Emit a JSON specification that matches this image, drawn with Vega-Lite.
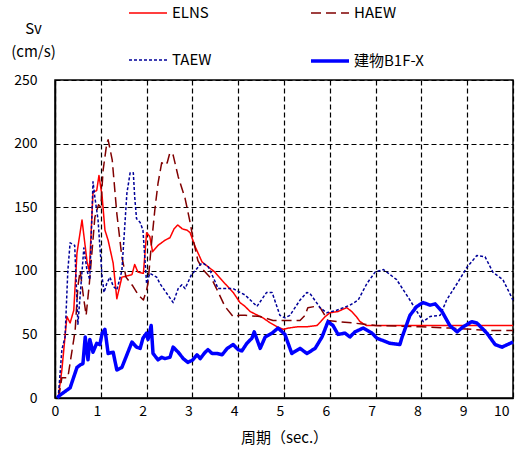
{
  "$schema": "https://vega.github.io/schema/vega-lite/v6.json",
  "width": 458,
  "height": 318,
  "autosize": {"type": "none"},
  "padding": {"left": 55, "top": 80, "right": 6, "bottom": 61},
  "background": "white",
  "data": {"values": [
    {"s":"ELNS","x":0.07,"y":0},{"s":"ELNS","x":0.15,"y":22},{"s":"ELNS","x":0.26,"y":64},{"s":"ELNS","x":0.33,"y":59},{"s":"ELNS","x":0.41,"y":69},{"s":"ELNS","x":0.48,"y":114},{"s":"ELNS","x":0.59,"y":140},{"s":"ELNS","x":0.70,"y":107},{"s":"ELNS","x":0.75,"y":100},{"s":"ELNS","x":0.83,"y":162},{"s":"ELNS","x":0.91,"y":163},{"s":"ELNS","x":0.96,"y":175},{"s":"ELNS","x":1.03,"y":158},{"s":"ELNS","x":1.09,"y":132},{"s":"ELNS","x":1.16,"y":124},{"s":"ELNS","x":1.27,"y":106},{"s":"ELNS","x":1.35,"y":78},{"s":"ELNS","x":1.46,"y":95},{"s":"ELNS","x":1.57,"y":96},{"s":"ELNS","x":1.68,"y":97},{"s":"ELNS","x":1.74,"y":105},{"s":"ELNS","x":1.81,"y":99},{"s":"ELNS","x":1.93,"y":98},{"s":"ELNS","x":2.0,"y":130},{"s":"ELNS","x":2.07,"y":127},{"s":"ELNS","x":2.13,"y":115},{"s":"ELNS","x":2.25,"y":120},{"s":"ELNS","x":2.4,"y":124},{"s":"ELNS","x":2.51,"y":126},{"s":"ELNS","x":2.6,"y":133},{"s":"ELNS","x":2.68,"y":136},{"s":"ELNS","x":2.78,"y":133},{"s":"ELNS","x":2.88,"y":132},{"s":"ELNS","x":2.95,"y":130},{"s":"ELNS","x":3.06,"y":119},{"s":"ELNS","x":3.21,"y":107},{"s":"ELNS","x":3.35,"y":103},{"s":"ELNS","x":3.49,"y":99},{"s":"ELNS","x":3.71,"y":90},{"s":"ELNS","x":3.89,"y":83},{"s":"ELNS","x":4.04,"y":75},{"s":"ELNS","x":4.15,"y":72},{"s":"ELNS","x":4.26,"y":68},{"s":"ELNS","x":4.37,"y":66},{"s":"ELNS","x":4.54,"y":63},{"s":"ELNS","x":4.7,"y":59},{"s":"ELNS","x":4.85,"y":56},{"s":"ELNS","x":4.98,"y":54},{"s":"ELNS","x":5.1,"y":55},{"s":"ELNS","x":5.3,"y":56},{"s":"ELNS","x":5.5,"y":56},{"s":"ELNS","x":5.72,"y":57},{"s":"ELNS","x":5.8,"y":60},{"s":"ELNS","x":5.9,"y":64},{"s":"ELNS","x":6.0,"y":67},{"s":"ELNS","x":6.18,"y":68},{"s":"ELNS","x":6.3,"y":70},{"s":"ELNS","x":6.37,"y":71},{"s":"ELNS","x":6.48,"y":68},{"s":"ELNS","x":6.58,"y":64},{"s":"ELNS","x":6.66,"y":60},{"s":"ELNS","x":6.8,"y":57},{"s":"ELNS","x":7.0,"y":57},{"s":"ELNS","x":8.0,"y":57},{"s":"ELNS","x":9.0,"y":57},{"s":"ELNS","x":10.0,"y":57},
    {"s":"HAEW","x":0.08,"y":0},{"s":"HAEW","x":0.15,"y":16},{"s":"HAEW","x":0.28,"y":16},{"s":"HAEW","x":0.44,"y":53},{"s":"HAEW","x":0.5,"y":88},{"s":"HAEW","x":0.55,"y":100},{"s":"HAEW","x":0.62,"y":80},{"s":"HAEW","x":0.68,"y":65},{"s":"HAEW","x":0.75,"y":90},{"s":"HAEW","x":0.87,"y":142},{"s":"HAEW","x":0.95,"y":152},{"s":"HAEW","x":1.0,"y":150},{"s":"HAEW","x":1.05,"y":179},{"s":"HAEW","x":1.13,"y":200},{"s":"HAEW","x":1.16,"y":203},{"s":"HAEW","x":1.25,"y":187},{"s":"HAEW","x":1.35,"y":145},{"s":"HAEW","x":1.46,"y":111},{"s":"HAEW","x":1.55,"y":95},{"s":"HAEW","x":1.7,"y":88},{"s":"HAEW","x":1.82,"y":81},{"s":"HAEW","x":1.93,"y":77},{"s":"HAEW","x":2.0,"y":85},{"s":"HAEW","x":2.03,"y":90},{"s":"HAEW","x":2.1,"y":119},{"s":"HAEW","x":2.18,"y":148},{"s":"HAEW","x":2.25,"y":169},{"s":"HAEW","x":2.33,"y":185},{"s":"HAEW","x":2.4,"y":183},{"s":"HAEW","x":2.45,"y":185},{"s":"HAEW","x":2.51,"y":193},{"s":"HAEW","x":2.58,"y":191},{"s":"HAEW","x":2.69,"y":174},{"s":"HAEW","x":2.84,"y":157},{"s":"HAEW","x":2.95,"y":138},{"s":"HAEW","x":3.02,"y":124},{"s":"HAEW","x":3.12,"y":108},{"s":"HAEW","x":3.23,"y":101},{"s":"HAEW","x":3.43,"y":93},{"s":"HAEW","x":3.54,"y":85},{"s":"HAEW","x":3.71,"y":72},{"s":"HAEW","x":3.89,"y":64},{"s":"HAEW","x":4.04,"y":65},{"s":"HAEW","x":4.15,"y":65},{"s":"HAEW","x":4.48,"y":64},{"s":"HAEW","x":4.76,"y":61},{"s":"HAEW","x":5.0,"y":61},{"s":"HAEW","x":5.35,"y":61},{"s":"HAEW","x":5.46,"y":65},{"s":"HAEW","x":5.52,"y":71},{"s":"HAEW","x":5.68,"y":72},{"s":"HAEW","x":5.79,"y":71},{"s":"HAEW","x":5.96,"y":61},{"s":"HAEW","x":6.2,"y":60},{"s":"HAEW","x":6.5,"y":59},{"s":"HAEW","x":7.0,"y":57},{"s":"HAEW","x":8.0,"y":56},{"s":"HAEW","x":8.6,"y":55},{"s":"HAEW","x":9.56,"y":53},{"s":"HAEW","x":10.0,"y":53},
    {"s":"TAEW","x":0.07,"y":0},{"s":"TAEW","x":0.15,"y":38},{"s":"TAEW","x":0.22,"y":48},{"s":"TAEW","x":0.28,"y":100},{"s":"TAEW","x":0.33,"y":122},{"s":"TAEW","x":0.43,"y":120},{"s":"TAEW","x":0.5,"y":58},{"s":"TAEW","x":0.63,"y":118},{"s":"TAEW","x":0.7,"y":100},{"s":"TAEW","x":0.76,"y":93},{"s":"TAEW","x":0.83,"y":170},{"s":"TAEW","x":0.87,"y":158},{"s":"TAEW","x":0.94,"y":140},{"s":"TAEW","x":0.98,"y":119},{"s":"TAEW","x":1.03,"y":95},{"s":"TAEW","x":1.07,"y":83},{"s":"TAEW","x":1.13,"y":90},{"s":"TAEW","x":1.2,"y":95},{"s":"TAEW","x":1.27,"y":88},{"s":"TAEW","x":1.35,"y":85},{"s":"TAEW","x":1.46,"y":100},{"s":"TAEW","x":1.57,"y":161},{"s":"TAEW","x":1.64,"y":177},{"s":"TAEW","x":1.71,"y":177},{"s":"TAEW","x":1.74,"y":158},{"s":"TAEW","x":1.78,"y":141},{"s":"TAEW","x":1.86,"y":138},{"s":"TAEW","x":1.92,"y":132},{"s":"TAEW","x":2.0,"y":90},{"s":"TAEW","x":2.07,"y":98},{"s":"TAEW","x":2.22,"y":95},{"s":"TAEW","x":2.29,"y":90},{"s":"TAEW","x":2.58,"y":75},{"s":"TAEW","x":2.69,"y":86},{"s":"TAEW","x":2.77,"y":89},{"s":"TAEW","x":2.84,"y":86},{"s":"TAEW","x":2.98,"y":97},{"s":"TAEW","x":3.06,"y":100},{"s":"TAEW","x":3.17,"y":105},{"s":"TAEW","x":3.23,"y":106},{"s":"TAEW","x":3.35,"y":103},{"s":"TAEW","x":3.49,"y":92},{"s":"TAEW","x":3.56,"y":86},{"s":"TAEW","x":3.89,"y":86},{"s":"TAEW","x":4.04,"y":83},{"s":"TAEW","x":4.15,"y":81},{"s":"TAEW","x":4.41,"y":72},{"s":"TAEW","x":4.62,"y":83},{"s":"TAEW","x":4.74,"y":83},{"s":"TAEW","x":4.91,"y":65},{"s":"TAEW","x":5.02,"y":63},{"s":"TAEW","x":5.13,"y":65},{"s":"TAEW","x":5.35,"y":77},{"s":"TAEW","x":5.5,"y":83},{"s":"TAEW","x":5.57,"y":82},{"s":"TAEW","x":5.79,"y":71},{"s":"TAEW","x":5.93,"y":67},{"s":"TAEW","x":6.15,"y":69},{"s":"TAEW","x":6.44,"y":73},{"s":"TAEW","x":6.62,"y":77},{"s":"TAEW","x":6.81,"y":90},{"s":"TAEW","x":6.99,"y":99},{"s":"TAEW","x":7.17,"y":101},{"s":"TAEW","x":7.46,"y":93},{"s":"TAEW","x":7.75,"y":77},{"s":"TAEW","x":8.04,"y":60},{"s":"TAEW","x":8.19,"y":64},{"s":"TAEW","x":8.41,"y":65},{"s":"TAEW","x":8.55,"y":77},{"s":"TAEW","x":8.78,"y":90},{"s":"TAEW","x":9.0,"y":103},{"s":"TAEW","x":9.21,"y":112},{"s":"TAEW","x":9.39,"y":111},{"s":"TAEW","x":9.56,"y":99},{"s":"TAEW","x":9.78,"y":93},{"s":"TAEW","x":10.0,"y":77},
    {"s":"建物B1F-X","x":0.05,"y":0},{"s":"建物B1F-X","x":0.1,"y":2},{"s":"建物B1F-X","x":0.33,"y":8},{"s":"建物B1F-X","x":0.48,"y":24},{"s":"建物B1F-X","x":0.55,"y":26},{"s":"建物B1F-X","x":0.61,"y":27},{"s":"建物B1F-X","x":0.66,"y":48},{"s":"建物B1F-X","x":0.72,"y":30},{"s":"建物B1F-X","x":0.76,"y":46},{"s":"建物B1F-X","x":0.83,"y":36},{"s":"建物B1F-X","x":0.91,"y":43},{"s":"建物B1F-X","x":0.98,"y":42},{"s":"建物B1F-X","x":1.03,"y":51},{"s":"建物B1F-X","x":1.09,"y":54},{"s":"建物B1F-X","x":1.16,"y":35},{"s":"建物B1F-X","x":1.27,"y":36},{"s":"建物B1F-X","x":1.35,"y":22},{"s":"建物B1F-X","x":1.46,"y":24},{"s":"建物B1F-X","x":1.57,"y":34},{"s":"建物B1F-X","x":1.68,"y":44},{"s":"建物B1F-X","x":1.78,"y":40},{"s":"建物B1F-X","x":1.86,"y":39},{"s":"建物B1F-X","x":1.92,"y":47},{"s":"建物B1F-X","x":2.0,"y":51},{"s":"建物B1F-X","x":2.03,"y":46},{"s":"建物B1F-X","x":2.1,"y":57},{"s":"建物B1F-X","x":2.14,"y":35},{"s":"建物B1F-X","x":2.25,"y":30},{"s":"建物B1F-X","x":2.33,"y":32},{"s":"建物B1F-X","x":2.4,"y":31},{"s":"建物B1F-X","x":2.51,"y":32},{"s":"建物B1F-X","x":2.58,"y":40},{"s":"建物B1F-X","x":2.69,"y":36},{"s":"建物B1F-X","x":2.8,"y":31},{"s":"建物B1F-X","x":2.9,"y":28},{"s":"建物B1F-X","x":3.01,"y":30},{"s":"建物B1F-X","x":3.1,"y":34},{"s":"建物B1F-X","x":3.17,"y":31},{"s":"建物B1F-X","x":3.28,"y":36},{"s":"建物B1F-X","x":3.34,"y":38},{"s":"建物B1F-X","x":3.43,"y":35},{"s":"建物B1F-X","x":3.54,"y":35},{"s":"建物B1F-X","x":3.65,"y":34},{"s":"建物B1F-X","x":3.76,"y":39},{"s":"建物B1F-X","x":3.89,"y":42},{"s":"建物B1F-X","x":4.0,"y":38},{"s":"建物B1F-X","x":4.08,"y":37},{"s":"建物B1F-X","x":4.19,"y":43},{"s":"建物B1F-X","x":4.3,"y":47},{"s":"建物B1F-X","x":4.35,"y":52},{"s":"建物B1F-X","x":4.48,"y":39},{"s":"建物B1F-X","x":4.59,"y":48},{"s":"建物B1F-X","x":4.74,"y":51},{"s":"建物B1F-X","x":4.87,"y":55},{"s":"建物B1F-X","x":5.02,"y":50},{"s":"建物B1F-X","x":5.17,"y":35},{"s":"建物B1F-X","x":5.35,"y":39},{"s":"建物B1F-X","x":5.5,"y":35},{"s":"建物B1F-X","x":5.68,"y":39},{"s":"建物B1F-X","x":5.83,"y":48},{"s":"建物B1F-X","x":5.96,"y":60},{"s":"建物B1F-X","x":6.07,"y":57},{"s":"建物B1F-X","x":6.18,"y":50},{"s":"建物B1F-X","x":6.33,"y":51},{"s":"建物B1F-X","x":6.44,"y":48},{"s":"建物B1F-X","x":6.55,"y":52},{"s":"建物B1F-X","x":6.73,"y":55},{"s":"建物B1F-X","x":6.92,"y":51},{"s":"建物B1F-X","x":7.03,"y":47},{"s":"建物B1F-X","x":7.31,"y":43},{"s":"建物B1F-X","x":7.53,"y":42},{"s":"建物B1F-X","x":7.58,"y":48},{"s":"建物B1F-X","x":7.75,"y":65},{"s":"建物B1F-X","x":7.9,"y":72},{"s":"建物B1F-X","x":8.04,"y":75},{"s":"建物B1F-X","x":8.19,"y":73},{"s":"建物B1F-X","x":8.3,"y":74},{"s":"建物B1F-X","x":8.45,"y":68},{"s":"建物B1F-X","x":8.62,"y":57},{"s":"建物B1F-X","x":8.78,"y":52},{"s":"建物B1F-X","x":8.91,"y":56},{"s":"建物B1F-X","x":9.1,"y":60},{"s":"建物B1F-X","x":9.21,"y":59},{"s":"建物B1F-X","x":9.43,"y":51},{"s":"建物B1F-X","x":9.61,"y":42},{"s":"建物B1F-X","x":9.76,"y":40},{"s":"建物B1F-X","x":10.0,"y":44}
  ]},
  "mark": {"type": "line", "strokeJoin": "round"},
  "encoding": {
    "x": {
      "field": "x", "type": "quantitative",
      "scale": {"domain": [0, 10], "nice": false, "zero": false},
      "axis": {"values": [0,1,2,3,4,5,6,7,8,9,10], "title": "周期（sec.）", "labelOffset": -4, "titlePadding": 12}
    },
    "y": {
      "field": "y", "type": "quantitative",
      "scale": {"domain": [0, 250], "nice": false},
      "axis": {"values": [0,50,100,150,200,250], "title": ["Sv", "(cm/s)"], "titleAngle": 0, "titleX": -22, "titleY": -59, "titleAlign": "center", "titleBaseline": "top", "titleLineHeight": 23, "labelPadding": 18}
    },
    "color": {
      "field": "s", "type": "nominal",
      "scale": {"domain": ["ELNS", "TAEW", "HAEW", "建物B1F-X"], "range": ["#ff0000", "#000099", "#800000", "#0000ff"]},
      "legend": {"title": null}
    },
    "strokeDash": {
      "field": "s", "type": "nominal",
      "scale": {"domain": ["ELNS", "TAEW", "HAEW", "建物B1F-X"], "range": [[1, 0], [3, 2], [10, 5], [1, 0]]},
      "legend": {"title": null}
    },
    "strokeWidth": {
      "field": "s", "type": "nominal",
      "scale": {"type": "ordinal", "domain": ["ELNS", "TAEW", "HAEW", "建物B1F-X"], "range": [1.5, 1.5, 1.5, 3.5]},
      "legend": {"title": null}
    }
  },
  "config": {
    "font": "Noto Sans CJK JP",
    "view": {"stroke": "black", "strokeWidth": 1.5},
    "axis": {
      "grid": true, "gridColor": "black", "gridDash": [5, 3], "gridWidth": 1.2, "gridOpacity": 1,
      "domain": true, "domainColor": "black", "domainWidth": 1.5,
      "ticks": false,
      "labelFont": "Noto Sans CJK JP", "labelFontSize": 14, "labelColor": "black",
      "titleFont": "Noto Sans CJK JP", "titleFontSize": 15, "titleFontWeight": "normal", "titleColor": "black"
    },
    "axisX": {"labelPadding": 6},
    "legend": {
      "orient": "none", "legendX": 72, "legendY": -87, "columns": 2, "columnPadding": 92, "rowPadding": 19,
      "padding": 0, "symbolType": "stroke", "symbolSize": 1444, "labelOffset": 3,
      "labelFont": "Noto Sans CJK JP", "labelFontSize": 15, "labelColor": "black"
    }
  }
}
